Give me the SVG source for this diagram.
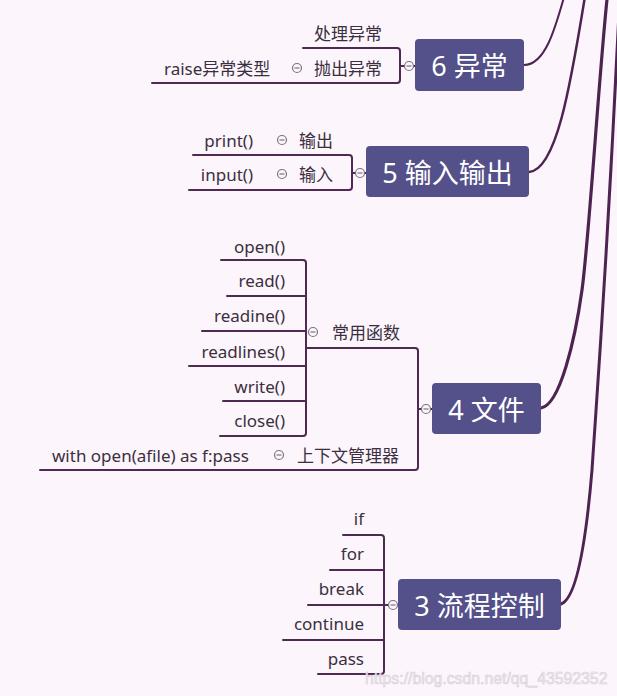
<svg xmlns="http://www.w3.org/2000/svg" width="617" height="696" viewBox="0 0 617 696">
<defs>
<style>
.bg{fill:#fcf5fc}
.node rect{fill:#54508a}
.node text{fill:#ffffff;font-family:"Noto Sans","Noto Sans CJK SC",sans-serif;font-size:27px;text-anchor:middle;dominant-baseline:central}
.ln{fill:none;stroke:#4e2a52;stroke-width:2;stroke-linecap:round;stroke-linejoin:round}
.cv{fill:none;stroke:#4e2352;stroke-linecap:round}
.lbl{fill:#3b2f3d;font-family:"Noto Sans","Noto Sans CJK SC",sans-serif;font-size:17px;dominant-baseline:central}
.r{text-anchor:end}
</style>
<g id="collapse">
<circle cx="0" cy="0" r="4.5" fill="#fcf5fc" stroke="#7d727f" stroke-width="1.2"/>
<path d="M-2.5,0 H2.5" stroke="#7d727f" stroke-width="1.2"/>
</g>
</defs>
<rect class="bg" x="0" y="0" width="617" height="696"/>

<g id="connectors">
<path class="cv" stroke-width="2" d="M524,65 C545,65 555,30 566,-10"/>
<path class="cv" stroke-width="2.5" d="M529,172 C556,170 570,90 586,-10"/>
<path class="cv" stroke-width="3.2" d="M541,408 C560,405 575,340 582,290 S600,60 608,-10"/>
<path class="cv" stroke-width="3" d="M561,604 C578,598 587,530 592,470 C598,380 608,250 620,-10"/>

<path class="ln" d="M415,66 H400"/>
<path class="ln" d="M303,48 H397 Q400,48 400,51 V80 Q400,83 397,83 H152"/>

<path class="ln" d="M366,173 H352"/>
<path class="ln" d="M193,155 H349 Q352,155 352,158 V187 Q352,190 349,190 H189"/>

<path class="ln" d="M432,409 H418"/>
<path class="ln" d="M307,348 H415 Q418,348 418,351 V467 Q418,470 415,470 H40"/>
<path class="ln" d="M221,260 H303 Q306,260 306,263 V433 Q306,436 303,436 H220"/>
<path class="ln" d="M227,296 H306 M202,331 H306 M189,366 H306 M223,401 H306"/>

<path class="ln" d="M398,605 H384"/>
<path class="ln" d="M343,535 H381 Q384,535 384,538 V671 Q384,674 381,674 H318"/>
<path class="ln" d="M330,570 H384 M308,605 H384 M283,640 H384"/>
</g>

<g id="collapse-buttons">
<use href="#collapse" x="409" y="66"/>
<use href="#collapse" x="297" y="68"/>
<use href="#collapse" x="360" y="173"/>
<use href="#collapse" x="282" y="140"/>
<use href="#collapse" x="282" y="174"/>
<use href="#collapse" x="426" y="409"/>
<use href="#collapse" x="313" y="332"/>
<use href="#collapse" x="279" y="455"/>
<use href="#collapse" x="393" y="605"/>
</g>

<g id="n6" class="node">
<rect x="415" y="39" width="109" height="52" rx="4"/>
<text x="469.5" y="65">6 异常</text>
</g>
<g id="n6-children">
<text class="lbl" x="314" y="33">处理异常</text>
<text class="lbl" x="314" y="68">抛出异常</text>
<text class="lbl" x="164" y="68">raise异常类型</text>
</g>

<g id="n5" class="node">
<rect x="366" y="146" width="163" height="51" rx="4"/>
<text x="447.5" y="172">5 输入输出</text>
</g>
<g id="n5-children">
<text class="lbl" x="299" y="140">输出</text>
<text class="lbl r" x="253" y="140">print()</text>
<text class="lbl" x="299" y="174">输入</text>
<text class="lbl r" x="253" y="174">input()</text>
</g>

<g id="n4" class="node">
<rect x="432" y="383" width="109" height="51" rx="4"/>
<text x="486.5" y="409">4 文件</text>
</g>
<g id="n4-children">
<text class="lbl" x="332" y="332">常用函数</text>
<text class="lbl r" x="285" y="246">open()</text>
<text class="lbl r" x="285" y="280">read()</text>
<text class="lbl r" x="285" y="315">readine()</text>
<text class="lbl r" x="285" y="351">readlines()</text>
<text class="lbl r" x="285" y="386">write()</text>
<text class="lbl r" x="285" y="420">close()</text>
<text class="lbl" x="297" y="455">上下文管理器</text>
<text class="lbl" x="52" y="455">with open(afile) as f:pass</text>
</g>

<g id="n3" class="node">
<rect x="398" y="579" width="163" height="51" rx="4"/>
<text x="479.5" y="605">3 流程控制</text>
</g>
<g id="n3-children">
<text class="lbl r" x="364" y="518">if</text>
<text class="lbl r" x="364" y="553">for</text>
<text class="lbl r" x="364" y="588">break</text>
<text class="lbl r" x="364" y="623">continue</text>
<text class="lbl r" x="364" y="658">pass</text>
</g>

<text x="365" y="678" font-family="Liberation Sans, sans-serif" font-size="15.8" fill="#efe8ef" stroke="#d9d1d9" stroke-width="0.6" dominant-baseline="central">https://blog.csdn.net/qq_43592352</text>
</svg>
